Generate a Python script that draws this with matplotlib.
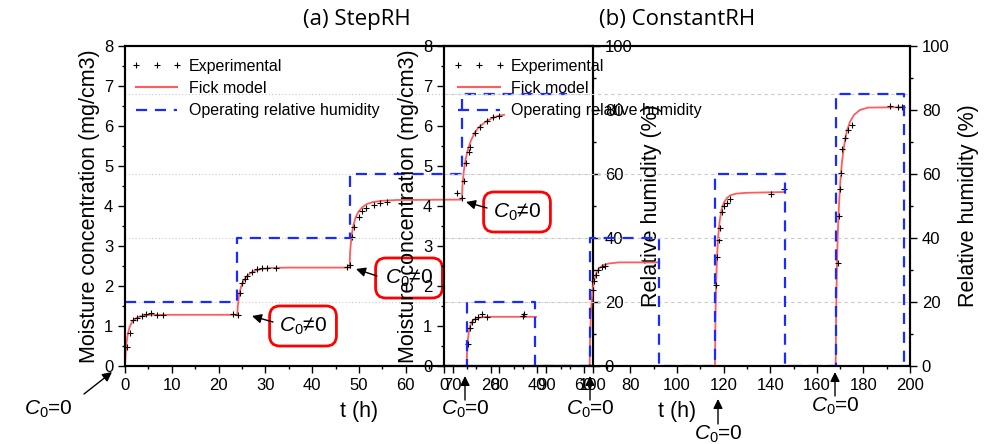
import numpy as np
import matplotlib
matplotlib.use("Agg")
import matplotlib.pyplot as plt
from matplotlib.lines import Line2D
from matplotlib.ticker import MultipleLocator

plt.rcParams['font.family'] = ['Liberation Sans', 'DejaVu Sans']
plt.rcParams['mathtext.fontset'] = 'custom'
plt.rcParams['mathtext.rm'] = 'Liberation Sans'
plt.rcParams['mathtext.it'] = 'Liberation Sans:italic'

# ---- data (a) StepRH ----
a_exp_t = [0.36, 1.07, 1.78, 2.5, 3.56, 4.5, 5.5, 6.8, 8.2, 23.1, 24.2,
           24.6, 25.1, 25.6, 26.1, 27.1, 28.1, 29.2, 30.3, 32.3, 47.4, 48.1,
           48.6, 48.9, 49.9, 50.6, 51.6, 53.1, 54.5, 56.0,
           71.0, 72.0, 72.4, 72.9, 73.4, 73.7, 74.8, 75.9, 77.3, 78.7, 80.0]
a_exp_c = [0.48, 0.82, 1.15, 1.2, 1.25, 1.3, 1.33, 1.27, 1.27, 1.29, 1.27,
           1.83, 2.07, 2.17, 2.25, 2.36, 2.42, 2.46, 2.46, 2.44, 2.48, 2.53,
           3.22, 3.48, 3.73, 3.88, 3.94, 4.02, 4.07, 4.11,
           4.32, 4.19, 4.62, 5.08, 5.36, 5.48, 5.82, 5.98, 6.13, 6.22, 6.25]

a_fick_t = [0, 0.15, 0.35, 0.6, 1.0, 1.5, 2.2, 3.0, 4.0, 5.5, 8, 12, 24,
            24.1, 24.4, 24.8, 25.3, 25.9, 26.7, 27.7, 29, 31, 35, 48,
            48.1, 48.4, 48.8, 49.3, 49.9, 50.7, 51.7, 53, 55, 58, 72,
            72.1, 72.4, 72.8, 73.3, 73.9, 74.7, 75.7, 77, 78.5, 80, 81]
a_fick_c = [0, 0.35, 0.6, 0.8, 0.98, 1.1, 1.18, 1.23, 1.26, 1.28, 1.28, 1.28, 1.28,
            1.5, 1.8, 1.98, 2.12, 2.23, 2.31, 2.38, 2.42, 2.45, 2.46, 2.46,
            2.85, 3.25, 3.52, 3.72, 3.86, 3.97, 4.05, 4.1, 4.13, 4.15, 4.16,
            4.5, 4.88, 5.18, 5.42, 5.63, 5.83, 5.98, 6.1, 6.2, 6.26, 6.28]

a_rh_t = [0, 24, 48, 72, 94.5]
a_rh = [20, 40, 60, 85, 85]

# ---- data (b) ConstantRH ----
b_exp_t = [10.4, 11.2, 11.9, 13.3, 14.7, 16.2, 18.3, 33.8, 34.5,
           64.1, 64.5, 65.2, 66.2, 67.7, 69.1,
           116.7, 117.3, 118.0, 118.5, 119.2, 120.2, 121.4, 122.7, 140.3, 146.1,
           169.0, 169.7, 170.0, 170.4, 171.0, 172.2, 173.3, 175.0, 191.4, 195.0, 196.4]
b_exp_c = [0.55, 0.95, 1.11, 1.17, 1.22, 1.3, 1.22, 1.26, 1.29,
           1.9, 2.12, 2.27, 2.4, 2.48, 2.51,
           2.02, 2.72, 3.15, 3.45, 3.85, 4.0, 4.08, 4.17, 4.3, 4.42,
           2.57, 3.75, 4.42, 4.82, 5.42, 5.71, 5.9, 6.03, 6.51, 6.48, 6.48]

b_fick_t = [9.7, 9.9, 10.2, 10.6, 11.1, 11.8, 12.8, 14.2, 16.5, 20, 39.5, np.nan,
            62.5, 62.7, 63.0, 63.4, 63.9, 64.6, 65.5, 66.7, 68.3, 70.5, 75, 92.4, np.nan,
            116.3, 116.5, 116.8, 117.2, 117.7, 118.3, 119.1, 120.1, 121.4, 123, 125.5, 130, 146.4, np.nan,
            168.1, 168.3, 168.6, 169.0, 169.5, 170.1, 170.8, 171.7, 172.8, 174.2, 176, 178.5, 182, 197.6]
b_fick_c = [0, 0.35, 0.62, 0.83, 0.98, 1.09, 1.16, 1.2, 1.22, 1.23, 1.23, np.nan,
            0, 0.7, 1.25, 1.65, 1.95, 2.18, 2.34, 2.45, 2.52, 2.56, 2.59, 2.59, np.nan,
            0, 1.2, 2.1, 2.75, 3.25, 3.62, 3.9, 4.08, 4.2, 4.27, 4.31, 4.33, 4.35, np.nan,
            0, 1.3, 2.4, 3.3, 4.0, 4.6, 5.1, 5.5, 5.85, 6.1, 6.28, 6.4, 6.46, 6.47]

b_rh_t = [0, 9.7, 39.1, 62.7, 92.4, 116.3, 146.4, 168.1, 197.6, 200]
b_rh = [0, 20, 0, 40, 0, 60, 0, 85, 0, 0]

rh_levels = [20, 40, 60, 85]

RED = '#ff5c5c'
BLUE = '#1a2bff'
W, H = 984, 444


def P(x, y):
    return (x / W, 1 - y / H)


def style(ax):
    for s in ax.spines.values():
        s.set_linewidth(1.5)
    ax.tick_params(which='both', direction='out', labelsize=12, width=1)
    ax.tick_params(which='major', length=5)
    ax.tick_params(which='minor', length=2.5)
    ax.patch.set_alpha(0)


fig = plt.figure(figsize=(9.84, 4.44), dpi=100)

panels = []
for left, right, xmax, xmaj, xmin, rh_t, rh, ls_grid in [
        (125, 593, 100, 10, 5, a_rh_t, a_rh, (0, (1, 2))),
        (444, 910, 200, 20, 10, b_rh_t, b_rh, (0, (3, 3)))]:
    ax = fig.add_axes([left / W, 78 / H, (right - left) / W, 320 / H])
    axr = ax.twinx()
    style(ax)
    style(axr)
    ax.set_xlim(0, xmax)
    ax.set_ylim(0, 8)
    axr.set_ylim(0, 100)
    ax.xaxis.set_major_locator(MultipleLocator(xmaj))
    ax.xaxis.set_minor_locator(MultipleLocator(xmin))
    ax.yaxis.set_major_locator(MultipleLocator(1))
    ax.yaxis.set_minor_locator(MultipleLocator(0.5))
    axr.yaxis.set_major_locator(MultipleLocator(20))
    axr.yaxis.set_minor_locator(MultipleLocator(10))
    for lv in rh_levels:
        axr.axhline(lv, color='#c8c8c8', lw=0.8, ls=ls_grid, zorder=0)
    axr.plot(rh_t, rh, drawstyle='steps-post', color=BLUE, lw=1.6,
             dashes=(5, 3.5), zorder=2)
    ax.set_ylabel('Moisture concentration (mg/cm3)', fontsize=15.5, labelpad=3)
    axr.set_ylabel('Relative humidity (%)', fontsize=15.5, labelpad=6)
    ax.set_xlabel('t (h)', fontsize=15.5, labelpad=6)
    panels.append((ax, axr))

(ax_a, ax_ar), (ax_b, ax_br) = panels

ax_a.plot(a_fick_t, a_fick_c, color=RED, lw=1.3, zorder=3)
ax_a.plot(a_exp_t, a_exp_c, ls='none', marker='+', ms=4.5, mew=0.8, color='k', zorder=4)
ax_b.plot(b_fick_t, b_fick_c, color=RED, lw=1.3, zorder=3)
ax_b.plot(b_exp_t, b_exp_c, ls='none', marker='+', ms=4.5, mew=0.8, color='k', zorder=4)

handles = [Line2D([], [], ls='none', marker='+', ms=4.5, mew=0.8, color='k'),
           Line2D([], [], color=RED, lw=1.5),
           Line2D([], [], color=BLUE, lw=1.6, dashes=(5, 3.5))]
labels = ['Experimental', 'Fick model', 'Operating relative humidity']
for axr, x0 in [(ax_ar, 0.013), (ax_br, 0.02)]:
    axr.legend(handles, labels, loc='upper left', bbox_to_anchor=(x0, 0.96),
               frameon=False, fontsize=11.5, numpoints=3, handlelength=3.2,
               handletextpad=0.4, labelspacing=0.45, borderpad=0, borderaxespad=0)

fig.text(*P(357, 19), '(a) StepRH', fontsize=16, family='Open Sans', ha='center', va='center')
fig.text(*P(677, 19), '(b) ConstantRH', fontsize=16, family='Open Sans', ha='center', va='center')

arrow = dict(arrowstyle='-|>', color='k', lw=1, mutation_scale=14, shrinkA=0, shrinkB=0)

# C0 = 0 labels
fig.add_artist(plt.Annotation('', xy=P(112, 372), xycoords='figure fraction',
                              xytext=P(84, 394), textcoords='figure fraction', arrowprops=arrow))
fig.text(*P(48, 409), '$C_0$=0', fontsize=15, ha='center', va='center')
for x, y_tip, y_tail, y_txt in [(465, 376, 400, 409), (590, 376, 400, 409),
                                (718, 399, 424, 434), (835, 372, 396, 406)]:
    fig.add_artist(plt.Annotation('', xy=P(x, y_tip), xycoords='figure fraction',
                                  xytext=P(x, y_tail), textcoords='figure fraction', arrowprops=arrow))
    fig.text(*P(x, y_txt), '$C_0$=0', fontsize=15, ha='center', va='center')

# C0 != 0 boxes (panel a)
box = dict(boxstyle='round,pad=0.45,rounding_size=0.5', ec='red', fc='white', lw=2)
for (tx, ty), (hx, hy), (ax_x, ax_y) in [((303, 326), (252, 316), (273, 322)),
                                        ((409, 278), (356, 269), (377, 276)),
                                        ((517, 212), (466, 202), (487, 208))]:
    ax_a.text(*P(tx, ty), '$C_0$≠0', transform=fig.transFigure, fontsize=15,
              ha='center', va='center', bbox=box, zorder=6)
    ax_a.annotate('', xy=P(hx, hy), xycoords='figure fraction', xytext=P(ax_x, ax_y),
                  textcoords='figure fraction', arrowprops=arrow, zorder=7)

fig.savefig('out.png', dpi=100, facecolor='white')
